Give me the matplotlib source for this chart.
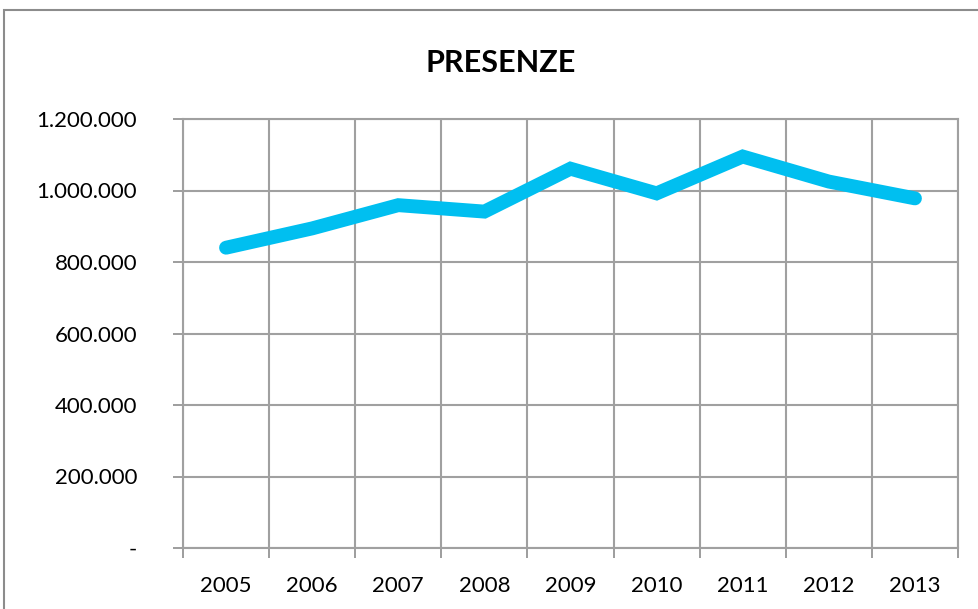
import matplotlib.pyplot as plt
from matplotlib.patches import Rectangle
from matplotlib.ticker import FuncFormatter, MultipleLocator

years = ['2005', '2006', '2007', '2008', '2009', '2010', '2011', '2012', '2013']
presenze = [840000, 894000, 959000, 941000, 1061000, 992000, 1095000, 1025000, 978000]

plt.rcParams['font.family'] = ['Lato', 'DejaVu Sans']

fig = plt.figure(figsize=(9.79, 6.09), dpi=100, facecolor='white')
ax = fig.add_axes([183 / 979, 1 - 548 / 609, (958 - 183) / 979, (548 - 119) / 609])

# outer chart border (cropped on right and bottom)
fig.patches.append(Rectangle((4 / 979, -0.05), 1.2, 1 - 10 / 609 + 0.05, transform=fig.transFigure,
                             fill=False, edgecolor='#8c8c8c', linewidth=1.5))

x = [i + 0.5 for i in range(len(years))]
ax.plot(x, presenze, color='#00BFF0', linewidth=10, solid_capstyle='round', solid_joinstyle='miter', zorder=3)

ax.set_xlim(0, len(years))
ax.set_ylim(0, 1200000)
ax.yaxis.set_major_locator(MultipleLocator(200000))


def fmt(v, pos):
    if v == 0:
        return '-'
    return f'{int(v):,}'.replace(',', '.')


ax.yaxis.set_major_formatter(FuncFormatter(fmt))
ax.set_xticks(range(len(years) + 1))
ax.set_xticklabels([])
ax.set_xticks(x, minor=True)
ax.set_xticklabels(years, minor=True)
ax.tick_params(axis='x', which='minor', length=0, pad=20, labelsize=16)
ax.tick_params(axis='x', which='major', length=7, color='#8c8c8c', width=1.2)
ax.tick_params(axis='y', length=7, color='#8c8c8c', width=1.2, labelsize=16, pad=26)

ax.grid(True, which='major', color='#a0a0a0', linewidth=1.5)
ax.set_axisbelow(True)
for s in ax.spines.values():
    s.set_color('#a0a0a0')
    s.set_linewidth(1.5)

fig.text(501 / 979, 1 - 63 / 609, 'PRESENZE', ha='center', va='center', fontsize=22, fontweight='bold')

fig.savefig('out.png', dpi=100)
